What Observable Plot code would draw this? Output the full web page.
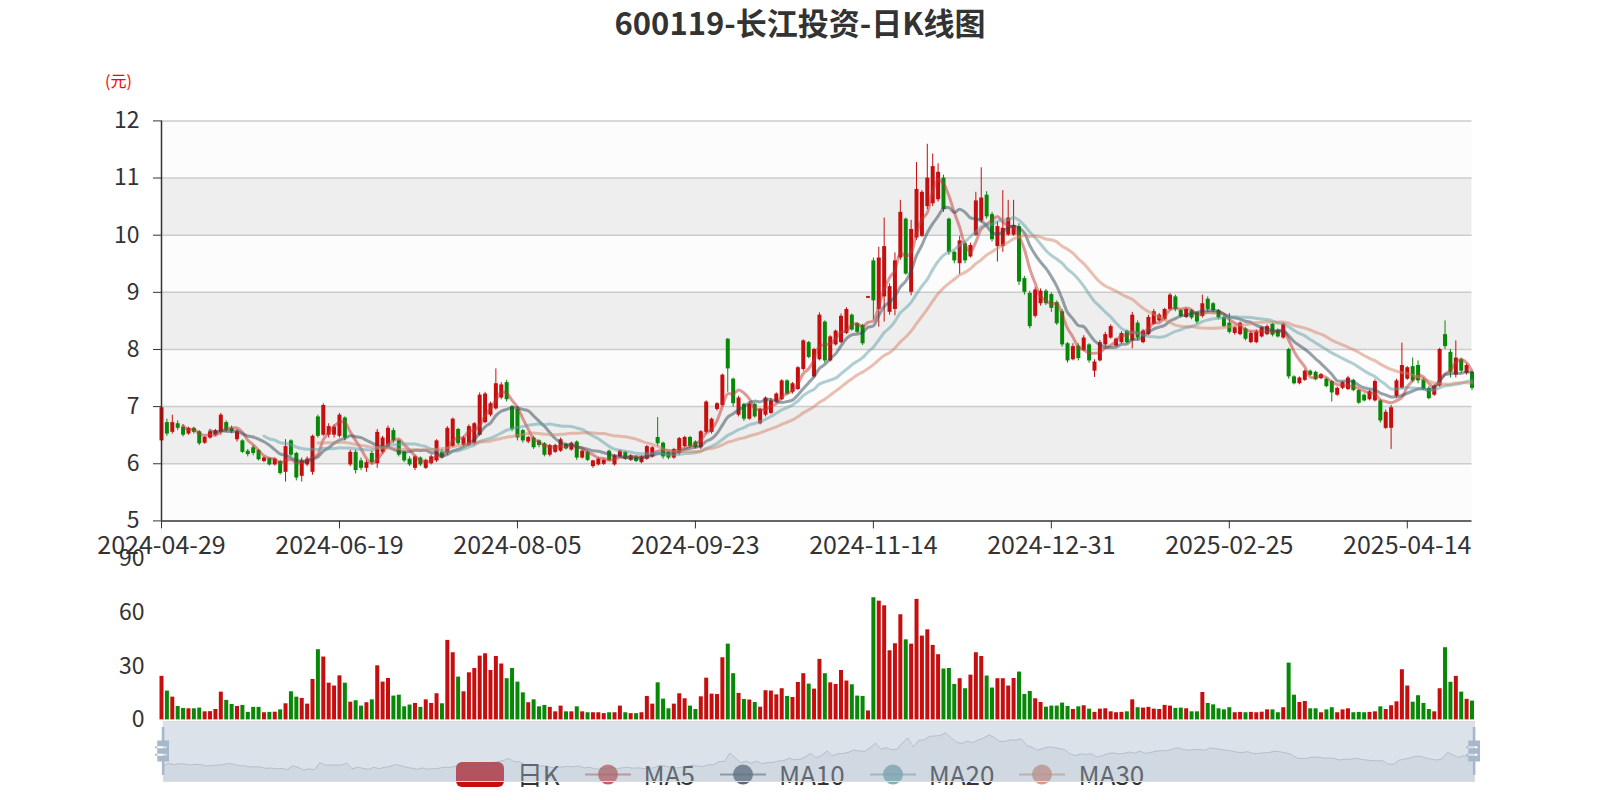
<!DOCTYPE html>
<html><head><meta charset="utf-8">
<script src="https://cdn.jsdelivr.net/npm/d3@7"></script>
<script src="https://cdn.jsdelivr.net/npm/@observablehq/plot@0.6"></script>
<style>
body{margin:0;background:#fff;}
#root{position:relative;width:1600px;height:800px;overflow:hidden;font-family:"Noto Sans CJK SC","Noto Sans",sans-serif;background:#fff;}
</style></head><body><div id="root"></div>
<script>
// ---- data (trading-day index 0..243) ----
const opens=[6.40,6.72,6.55,6.70,6.64,6.52,6.62,6.56,6.36,6.45,
6.50,6.55,6.72,6.62,6.42,6.40,6.22,6.28,6.23,6.04,
6.09,5.98,6.04,5.85,6.40,6.18,5.78,5.98,5.85,6.82,
6.50,6.50,6.50,6.48,6.80,5.98,6.20,6.05,5.92,6.18,
6.00,6.20,6.30,6.58,6.40,6.20,6.08,5.92,6.10,5.92,
6.00,6.05,6.20,6.18,6.30,6.60,6.32,6.32,6.35,6.50,
6.72,6.85,6.96,7.15,7.42,7.00,6.95,6.58,6.38,6.45,
6.40,6.35,6.15,6.20,6.22,6.34,6.24,6.38,6.10,6.20,
5.95,5.98,5.99,6.22,5.98,6.12,6.20,6.06,6.12,6.02,
6.08,6.12,6.46,6.36,6.20,6.10,6.18,6.30,6.46,6.38,
6.28,6.55,6.55,6.95,7.02,8.18,7.48,6.85,7.04,6.78,
7.04,6.70,6.85,6.88,7.08,7.12,7.45,7.25,7.30,7.65,
8.12,7.52,7.82,8.48,7.80,8.08,8.12,8.28,8.60,8.45,
8.42,8.895,9.55,8.70,8.92,8.65,8.70,9.60,10.28,9.00,
9.95,9.98,10.50,10.55,10.62,11.00,10.28,9.70,9.50,9.85,
9.62,10.00,10.25,10.70,10.36,9.80,9.80,10.00,10.00,10.15,
9.24,8.98,8.58,8.80,9.02,8.96,8.82,8.66,8.10,7.82,
8.06,7.98,8.08,7.62,7.80,8.08,8.20,8.06,8.12,8.32,
8.15,8.46,8.12,8.26,8.44,8.50,8.52,8.70,8.92,8.68,
8.56,8.68,8.64,8.58,8.88,8.80,8.68,8.56,8.46,8.28,
8.26,8.36,8.12,8.12,8.22,8.26,8.44,8.34,8.20,8.00,
7.52,7.40,7.46,7.62,7.60,7.49,7.48,7.44,7.20,7.32,
7.30,7.46,7.28,7.20,7.12,7.10,7.10,6.62,6.62,7.18,
7.32,7.48,7.70,7.72,7.47,7.32,7.20,7.36,8.26,7.95,
7.55,7.82,7.58,7.60];
const closes=[6.98,6.52,6.72,6.62,6.50,6.62,6.55,6.35,6.46,6.56,
6.58,6.85,6.58,6.56,6.56,6.20,6.16,6.18,6.07,6.10,
5.98,6.08,5.83,6.30,6.15,5.75,6.05,6.08,6.48,6.48,
7.02,6.65,6.64,6.85,6.45,6.20,5.88,5.92,6.02,6.02,
6.55,6.45,6.62,6.40,6.15,6.05,5.98,6.12,5.98,6.06,
6.12,6.40,6.10,6.62,6.78,6.35,6.45,6.65,6.70,7.20,
7.22,7.05,7.40,7.38,7.12,6.60,6.45,6.40,6.46,6.28,
6.32,6.15,6.32,6.32,6.42,6.26,6.36,6.10,6.22,6.06,
6.05,6.08,6.06,6.06,6.14,6.22,6.08,6.14,6.04,6.12,
6.30,6.28,6.35,6.12,6.10,6.25,6.44,6.46,6.30,6.28,
6.56,7.08,6.78,7.05,7.55,7.66,7.05,7.15,6.78,7.04,
6.82,6.95,7.15,7.10,7.22,7.45,7.22,7.40,7.68,8.15,
7.86,8.00,8.60,7.80,8.22,8.32,8.58,8.70,8.34,8.30,
8.10,8.925,8.85,9.60,9.80,9.10,9.55,10.40,9.32,10.10,
10.80,10.75,11.00,11.20,11.10,10.45,9.70,9.55,9.90,9.55,
9.82,10.60,10.65,10.32,9.92,10.15,10.12,10.30,10.17,9.18,
9.00,8.40,9.04,9.02,8.80,8.72,8.45,8.08,7.80,8.05,
7.84,8.20,7.80,7.78,8.12,8.26,8.40,8.18,8.28,8.12,
8.60,8.20,8.32,8.56,8.66,8.60,8.70,8.95,8.70,8.58,
8.70,8.55,8.48,8.80,8.70,8.68,8.55,8.40,8.30,8.38,
8.46,8.18,8.28,8.30,8.38,8.40,8.25,8.22,8.44,7.52,
7.40,7.50,7.62,7.55,7.47,7.56,7.35,7.24,7.32,7.42,
7.50,7.28,7.06,7.10,7.26,7.44,6.75,6.90,6.98,7.45,
7.72,7.68,7.45,7.45,7.30,7.14,7.36,8.00,8.05,7.60,
7.85,7.62,7.72,7.32];
const lows=[6.33,6.48,6.52,6.58,6.47,6.50,6.52,6.32,6.34,6.43,
6.48,6.50,6.55,6.53,6.38,6.18,6.12,6.14,6.05,6.02,
5.96,5.96,5.80,5.68,6.12,5.70,5.68,5.95,5.80,6.45,
6.48,6.45,6.45,6.45,6.40,5.95,5.82,5.88,5.85,5.98,
5.92,6.17,6.28,6.36,6.12,6.02,5.95,5.88,5.95,5.90,
5.98,6.02,6.08,6.15,6.28,6.32,6.30,6.30,6.32,6.48,
6.70,6.82,6.94,7.12,7.08,6.56,6.40,6.36,6.35,6.25,
6.28,6.12,6.12,6.18,6.20,6.24,6.22,6.06,6.08,6.04,
5.92,5.96,5.97,6.04,5.96,6.10,6.06,6.04,6.02,6.00,
6.06,6.10,6.30,6.08,6.07,6.08,6.15,6.28,6.28,6.26,
6.25,6.52,6.52,6.92,7.00,7.25,6.99,6.82,6.74,6.76,
6.80,6.68,6.82,6.86,7.06,7.10,7.20,7.22,7.28,7.62,
7.84,7.50,7.80,7.76,7.78,8.06,8.10,8.26,8.32,8.28,
8.07,8.89,8.52,8.39,8.48,8.60,8.59,9.56,9.30,8.94,
9.91,9.96,10.45,10.50,10.58,10.40,9.65,9.50,9.31,9.50,
9.60,9.98,10.21,10.28,9.88,9.53,9.70,9.98,9.98,9.12,
8.95,8.36,8.55,8.76,8.77,8.65,8.42,8.04,7.76,7.80,
7.80,7.96,7.76,7.51,7.78,8.05,8.18,8.04,8.10,8.10,
8.01,8.16,8.10,8.24,8.42,8.48,8.50,8.68,8.66,8.55,
8.54,8.52,8.44,8.55,8.66,8.64,8.52,8.38,8.27,8.25,
8.24,8.15,8.10,8.10,8.20,8.24,8.22,8.20,8.18,7.48,
7.38,7.38,7.44,7.53,7.45,7.47,7.33,7.08,7.18,7.30,
7.28,7.26,7.04,7.08,7.10,7.08,6.71,6.60,6.25,7.15,
7.30,7.46,7.42,7.40,7.28,7.12,7.18,7.34,8.00,7.50,
7.50,7.58,7.55,7.28];
const highs=[7.00,6.78,6.85,6.75,6.68,6.64,6.64,6.58,6.48,6.58,
6.60,6.88,6.75,6.66,6.60,6.42,6.25,6.32,6.25,6.12,
6.10,6.10,6.06,6.42,6.42,6.20,6.10,6.12,6.50,6.85,
7.05,6.70,6.68,6.88,6.82,6.24,6.24,6.10,6.06,6.22,
6.60,6.48,6.66,6.62,6.42,6.22,6.12,6.14,6.12,6.08,
6.15,6.42,6.25,6.65,6.80,6.62,6.48,6.68,6.72,7.24,
7.25,7.08,7.66,7.42,7.46,7.02,7.00,6.60,6.48,6.48,
6.42,6.37,6.34,6.34,6.45,6.36,6.38,6.40,6.24,6.22,
6.06,6.10,6.08,6.24,6.16,6.24,6.22,6.16,6.14,6.14,
6.32,6.30,6.81,6.38,6.22,6.27,6.46,6.48,6.48,6.40,
6.58,7.10,6.80,7.07,7.57,8.19,7.50,7.18,7.06,7.06,
7.06,6.97,7.17,7.14,7.24,7.47,7.47,7.42,7.70,8.17,
8.14,8.02,8.64,8.50,8.24,8.34,8.62,8.73,8.62,8.47,
8.44,8.93,9.60,9.79,10.30,9.15,9.69,10.61,10.30,10.26,
11.27,10.78,11.59,11.42,11.25,11.05,10.30,9.72,9.98,9.88,
9.86,10.75,11.18,10.76,10.40,10.23,10.78,10.61,10.61,10.20,
9.28,9.02,9.08,9.06,9.05,8.99,8.85,8.70,8.12,8.10,
8.10,8.24,8.10,7.82,8.16,8.30,8.43,8.20,8.31,8.34,
8.65,8.50,8.35,8.60,8.70,8.63,8.72,8.98,8.95,8.70,
8.72,8.70,8.66,8.95,8.92,8.82,8.70,8.58,8.63,8.40,
8.48,8.38,8.31,8.34,8.40,8.43,8.46,8.36,8.46,8.02,
7.54,7.52,7.64,7.64,7.62,7.58,7.50,7.46,7.34,7.44,
7.53,7.48,7.30,7.22,7.29,7.47,7.12,6.94,7.02,7.48,
8.11,7.70,7.85,7.80,7.50,7.35,7.38,8.02,8.50,8.00,
8.15,7.85,7.75,7.62];
const volumes=[24.3,16.1,12.7,7.5,6.4,6.2,6.2,6.6,4.5,4.6,
5.8,15.5,10.9,8.6,7.5,8.1,4.2,7.0,7.0,4.0,
4.2,4.3,5.6,9.0,15.7,12.7,12.0,8.8,22.6,39.2,
35.1,20.5,18.9,24.6,20.5,9.9,10.7,7.7,9.6,11.2,
30.2,21.1,23.1,13.3,13.8,7.3,8.3,9.2,7.0,11.2,
9.2,14.6,9.0,44.4,37.5,23.9,15.7,26.3,28.7,35.6,
36.9,27.6,35.4,31.2,23.0,28.7,21.1,15.1,9.6,11.2,
7.3,8.1,7.0,4.5,7.7,4.5,4.5,7.3,4.5,4.0,
4.0,4.0,3.5,4.0,4.0,7.7,4.0,3.5,3.5,4.0,
13.1,8.8,20.7,11.6,6.2,8.8,14.6,11.8,7.7,5.8,
12.9,23.3,14.4,14.2,34.7,42.3,25.8,14.8,11.4,11.1,
9.7,7.1,16.3,16.1,14.0,17.4,13.1,12.5,20.9,25.8,
20.0,17.2,33.8,25.8,20.7,19.8,27.6,21.7,19.6,13.3,
13.1,5.0,68.2,66.3,63.7,38.6,42.5,58.7,44.7,42.3,
67.3,46.8,50.3,41.6,36.4,28.4,28.7,19.8,23.0,17.4,
25.0,37.5,35.4,24.5,17.8,23.0,23.0,18.9,23.1,26.7,
14.2,15.9,11.8,9.7,7.1,7.7,7.7,9.4,7.5,5.8,
7.3,7.9,6.0,4.2,6.0,6.2,4.5,4.0,4.2,4.5,
11.2,6.8,6.6,7.0,6.0,5.8,8.1,7.7,6.4,6.6,
6.2,4.5,4.5,15.3,9.2,8.4,6.2,5.6,6.8,4.0,
4.2,4.0,4.2,4.0,4.3,5.6,5.6,4.0,6.8,31.7,
13.8,9.7,10.3,6.2,6.2,4.0,5.6,6.8,4.0,5.6,
6.2,4.0,4.2,4.0,4.2,4.5,7.3,5.8,7.9,10.1,
28.0,18.9,9.9,13.5,9.2,5.8,4.5,17.4,40.3,21.0,
24.3,15.5,11.5,10.5];
const xTickIndex=[0,33,66,99,132,165,198,231];
const xTickLabels=["2024-04-29","2024-06-19","2024-08-05","2024-09-23","2024-11-14","2024-12-31","2025-02-25","2025-04-14"];
const yTicks=[5,6,7,8,9,10,11,12];
const volTicks=[0,30,60,90];
const maPeriods=[5,10,20,30];
const maNames=["MA5","MA10","MA20","MA30"];
const titleText="600119-长江投资-日K线图";
const unitText="(元)";
const candleName="日K";

// ---- styles ----
const UP="#c70e0e", DOWN="#078807";
const maColors=["#c23531","#2f4554","#61a0a8","#d48265"];
const FONT='"Noto Sans CJK SC","Noto Sans",sans-serif';
const W=1600;

const data=closes.map((c,i)=>({i,open:opens[i],close:c,low:lows[i],high:highs[i],vol:volumes[i],up:c>=opens[i]}));
const n=data.length;
const xDomain=[0,n-1];
const colorOf=d=>d.up?UP:DOWN;
const bands=d3.pairs(yTicks).map(([a,b],k)=>({y1:a,y2:b,k}));
const labelOf=new Map(xTickIndex.map((v,k)=>[v,xTickLabels[k]]));

const root=document.getElementById("root");
function place(el,top,z){el.style.position="absolute";el.style.left="0px";el.style.top=top+"px";if(z!=null)el.style.zIndex=z;root.appendChild(el);return el;}

// title
const title=document.createElement("div");
title.textContent=titleText;
title.style.cssText=`width:1600px;text-align:center;font:bold 31px ${FONT};color:#333;line-height:42px;`;
place(title,1);
const unit=document.createElement("div");
unit.textContent=unitText;
unit.style.cssText=`font:16px ${FONT};color:#ff0000;line-height:20px;`;
place(unit,70); unit.style.left="105px";

// main candlestick chart
const main=Plot.plot({
  width:W,height:560,marginLeft:161,marginRight:128.5,marginTop:120.4,marginBottom:39.6,
  style:{background:"transparent",overflow:"visible",fontFamily:FONT,fontSize:"25px",color:"#333"},
  x:{domain:xDomain,ticks:xTickIndex,tickFormat:d=>labelOf.get(d),tickSize:8,tickPadding:7,label:null},
  y:{domain:[5,12],label:null,axis:null},
  marks:[
    Plot.rect(bands,{x1:()=>xDomain[0],x2:()=>xDomain[1],y1:"y1",y2:"y2",fill:d=>d.k%2?"#eeeeee":"#fcfcfc"}),
    Plot.ruleY(yTicks.slice(1),{stroke:"#cccccc",strokeWidth:1.5}),
    Plot.ruleX(data,{x:"i",y1:"low",y2:"high",stroke:colorOf,strokeWidth:1}),
    Plot.ruleX(data,{x:"i",y1:"open",y2:"close",stroke:colorOf,strokeWidth:4}),
    ...maPeriods.map((k,j)=>Plot.lineY(data,Plot.windowY({k,reduce:"mean",anchor:"end",strict:true},{x:"i",y:"close",stroke:maColors[j],strokeWidth:3,strokeOpacity:0.5,curve:"catmull-rom"}))),
    Plot.axisY(yTicks,{anchor:"left",tickSize:8,tickPadding:14,fontSize:23,stroke:"#333",tickFormat:d=>String(d)}),
    Plot.ruleX([xDomain[0]],{stroke:"#333",strokeWidth:1.5}),
    Plot.ruleY([yTicks[0]],{stroke:"#333",strokeWidth:1.5})
  ]
});
place(main,0,1);

// volume chart
const vol=Plot.plot({
  width:W,height:190,marginLeft:161,marginRight:128.5,marginTop:18.2,marginBottom:10.6,
  style:{background:"transparent",overflow:"visible",fontFamily:FONT,fontSize:"23px",color:"#333"},
  x:{domain:xDomain,axis:null},
  y:{domain:[0,90],ticks:volTicks,tickFormat:d=>String(d),tickSize:0,tickPadding:17,label:null},
  marks:[
    Plot.ruleX(data,{x:"i",y1:()=>0,y2:"vol",stroke:colorOf,strokeWidth:4})
  ]
});
place(vol,540,2);

// legend (drawn beneath the data-zoom slider)
const legend=document.createElement("div");
legend.style.cssText=`width:1600px;height:28px;display:flex;justify-content:center;align-items:center;gap:25px;font:26px ${FONT};color:#333;`;
function legendItem(name,iconFn){
  const it=document.createElement("div");
  it.style.cssText="display:flex;align-items:center;gap:13px;";
  it.appendChild(iconFn());
  const t=document.createElement("span");t.textContent=name;t.style.lineHeight="28px";
  it.appendChild(t);legend.appendChild(it);
}
legendItem(candleName,()=>{const s=d3.create("svg").attr("width",48).attr("height",25);
  s.append("rect").attr("x",0).attr("y",0).attr("width",48).attr("height",25).attr("rx",6).attr("fill",UP);return s.node();});
maNames.forEach((nm,j)=>legendItem(nm,()=>{const s=d3.create("svg").attr("width",46).attr("height",25);
  s.append("line").attr("x1",0).attr("x2",46).attr("y1",12.5).attr("y2",12.5).attr("stroke",maColors[j]).attr("stroke-width",2).attr("stroke-opacity",0.6);
  s.append("circle").attr("cx",23).attr("cy",12.5).attr("r",10).attr("fill",maColors[j]).attr("fill-opacity",0.8);return s.node();}));
place(legend,760,3);

// data zoom slider
const oMin=d3.min(opens),oMax=d3.max(opens),pad=(oMax-oMin)*0.3;
const dzDomain=[oMin-pad,oMax+pad];
const dz=Plot.plot({
  width:W,height:85,marginLeft:163,marginRight:126,marginTop:6,marginBottom:19,
  style:{background:"transparent",overflow:"visible"},
  x:{domain:xDomain,axis:null},
  y:{domain:dzDomain,axis:null},
  marks:[
    Plot.areaY(data,{x:"i",y1:()=>dzDomain[0],y2:"open",fill:"#2f4554",fillOpacity:0.09}),
    Plot.lineY(data,{x:"i",y:"open",stroke:"#2f4554",strokeOpacity:0.3,strokeWidth:0.8}),
    Plot.frame({fill:"#a7b7cb",fillOpacity:0.4,stroke:"#dddddd"})
  ]
});
const xs=dz.scale("x");
const handlePath="M8.2,13.6V3.9H6.3v9.7H3.1v14.9h3.3v9.7h1.8v-9.7h3.3V13.6H8.2z M9.7,24.4H1.6v-1.4h8.1V24.4z M9.7,19.1H1.6v-1.4h8.1V19.1z";
const sc=48/34.3, cy=6+30;
d3.select(dz).selectAll("path.handle").data(xDomain).join("path").attr("class","handle")
  .attr("d",handlePath).attr("fill","#a7b7cc").attr("fill-rule","evenodd")
  .attr("transform",v=>`translate(${xs.apply(v)},${cy}) scale(${sc}) translate(-7.2,-21.05)`);
place(dz,715,4);
</script></body></html>
